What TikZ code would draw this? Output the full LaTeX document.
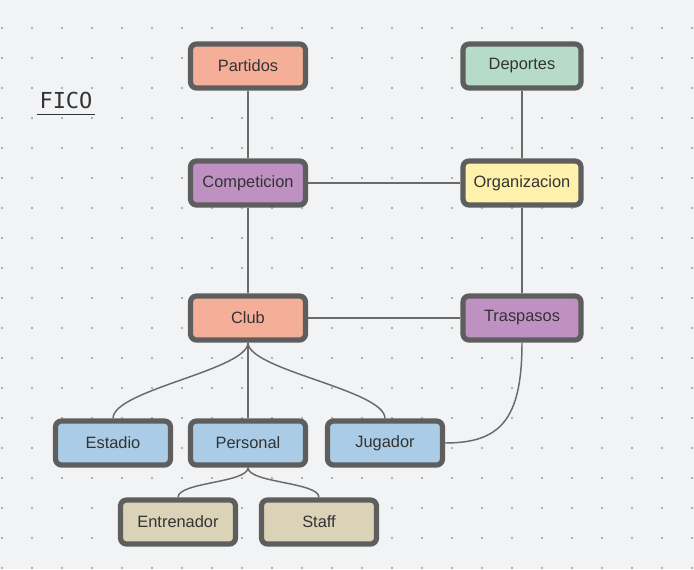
\documentclass[tikz,border=0pt]{standalone}
\usepackage{fontspec}
\setmainfont{Liberation Sans}
\newfontfamily\titlefont{DejaVu Sans Mono}
\definecolor{bgpaper}{HTML}{F2F3F5}
\definecolor{griddot}{HTML}{9A9A9A}
\definecolor{boxline}{HTML}{5E5E5E}
\definecolor{linkline}{HTML}{6A6A6A}
\definecolor{inktext}{HTML}{333333}
\definecolor{salmon}{HTML}{F5AE98}
\definecolor{lilac}{HTML}{BE91C2}
\definecolor{mint}{HTML}{B6DCC9}
\definecolor{butter}{HTML}{FEF1AB}
\definecolor{skyblue}{HTML}{AACCE6}
\definecolor{sand}{HTML}{DAD3B7}
\begin{document}
\begin{tikzpicture}[x=0.75pt,y=-0.75pt,
    entity/.style={draw=boxline,line width=3.9pt,rounded corners=4.5pt,
        minimum width=86.25pt,minimum height=33pt,text=inktext,
        font=\fontsize{12.3}{14}\selectfont},
    wide/.style={minimum width=88.5pt},
    link/.style={draw=linkline,line width=1.1pt}]
    \fill[bgpaper] (0,0) rectangle (694,569);
    \useasboundingbox (0,0) rectangle (694,569);
    \foreach \i in {0,...,23}
        \foreach \j in {0,...,18}
            \fill[griddot] (2+30*\i,28+30*\j) circle (0.8pt);
    \node[text=inktext,font=\titlefont\fontsize{16.5}{18}\selectfont] (title) at (66,100) {FICO};
    \draw[inktext,line width=0.7pt] (37,114) -- (95,114);
    % first row
    \node[entity,fill=salmon] (partidos) at (248,66) {Partidos};
    \node[entity,wide,fill=mint] (deportes) at (522,66) {Deportes};
    \node[entity,fill=lilac] (competicion) at (248,183) {Competicion};
    \node[entity,wide,fill=butter] (organizacion) at (522,183) {Organizacion};
    \node[entity,fill=salmon] (club) at (248,318) {Club};
    \node[entity,wide,fill=lilac] (traspasos) at (522,318) {Traspasos};
    % people and places
    \node[entity,fill=skyblue] (estadio) at (113,443) {Estadio};
    \node[entity,fill=skyblue] (personal) at (248,443) {Personal};
    \node[entity,fill=skyblue] (jugador) at (385,443) {Jugador};
    \node[entity,fill=sand] (entrenador) at (178,522) {Entrenador};
    \node[entity,fill=sand] (staff) at (319,522) {Staff};
    % links
    \draw[link] (partidos) -- (competicion);
    \draw[link] (deportes) -- (organizacion);
    \draw[link] (competicion) -- (organizacion);
    \draw[link] (competicion) -- (club);
    \draw[link] (organizacion) -- (traspasos);
    \draw[link] (club) -- (traspasos);
    \draw[link] (club) -- (personal);
    \draw[link] (club.south) .. controls (248,370) and (113,390) .. (estadio.north);
    \draw[link] (club.south) .. controls (248,370) and (385,390) .. (jugador.north);
    \draw[link] (traspasos.south) .. controls (522,420) and (500,443) .. (jugador.east);
    \draw[link] (personal.south) .. controls (248,483) and (178,482) .. (entrenador.north);
    \draw[link] (personal.south) .. controls (248,483) and (319,482) .. (staff.north);
\end{tikzpicture}
\end{document}
